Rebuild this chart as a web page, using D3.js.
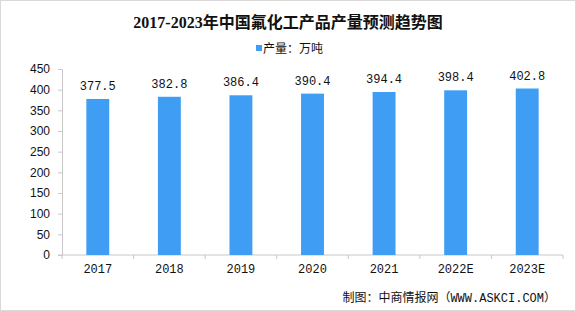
<!DOCTYPE html>
<html>
<head>
<meta charset="utf-8">
<script src="https://cdn.jsdelivr.net/npm/d3@7"></script>
<style>
  body { margin: 0; background: #fff; }
  svg { display: block; }
</style>
</head>
<body>
<svg id="chart" width="576" height="311"></svg>
<script>
// data
const years = ["2017", "2018", "2019", "2020", "2021", "2022E", "2023E"];
const output = [377.5, 382.8, 386.4, 390.4, 394.4, 398.4, 402.8];
const yTicks = [0, 50, 100, 150, 200, 250, 300, 350, 400, 450];

const svg = d3.select("#chart");
const width = 576, height = 311;
const margin = {top: 69, right: 13, bottom: 56, left: 62};
const monoFont = "'Liberation Mono', 'DejaVu Sans Mono', 'Noto Sans CJK SC', monospace";
const sansFont = "'Liberation Sans', Arial, sans-serif";
const cjkFont = "'Noto Sans CJK SC', sans-serif";

// outer border
svg.append("rect")
    .attr("x", 0.5).attr("y", 0.5)
    .attr("width", width - 1).attr("height", height - 1)
    .attr("fill", "#fff")
    .attr("stroke", "#d9d9d9");

// title
svg.append("text")
    .attr("x", width / 2).attr("y", 28)
    .attr("text-anchor", "middle")
    .style("font-family", "'Liberation Serif', 'Noto Sans CJK SC', serif")
    .style("font-weight", "bold")
    .style("font-size", "16px")
    .attr("fill", "#111")
    .text("2017-2023年中国氟化工产品产量预测趋势图");

// legend
svg.append("rect")
    .attr("x", 256).attr("y", 45)
    .attr("width", 6).attr("height", 6)
    .attr("fill", "#3f9ef3");
svg.append("text")
    .attr("x", 263).attr("y", 53)
    .style("font-family", cjkFont)
    .style("font-size", "12px")
    .attr("fill", "#111")
    .text("产量：万吨");

let xScale = d3.scaleBand()
    .domain(years)
    .range([margin.left, width - margin.right])
    .paddingInner(0.68)
    .paddingOuter(0.34);

let yScale = d3.scaleLinear()
    .domain([0, 450])
    .range([height - margin.bottom, margin.top]);

// y axis
let yAxis = d3.axisLeft(yScale)
    .tickValues(yTicks)
    .tickSize(4)
    .tickPadding(8);

let gy = svg.append("g")
    .attr("transform", "translate(" + margin.left + ",0)")
    .call(yAxis);
gy.select(".domain").attr("stroke", "#c8c8c8");
gy.selectAll(".tick line").attr("stroke", "#c8c8c8");
gy.selectAll(".tick text")
    .style("font-family", sansFont)
    .style("font-size", "12px")
    .attr("fill", "#111");

// x axis with ticks on the band edges
let step = xScale.step();
let x0 = margin.left;
let gx = svg.append("g")
    .attr("transform", "translate(0," + (height - margin.bottom) + ")");
gx.append("line")
    .attr("x1", x0 - 4).attr("x2", width - margin.right)
    .attr("stroke", "#c8c8c8");
gx.selectAll(".edge")
    .data(d3.range(years.length + 1))
    .enter()
    .append("line")
    .attr("class", "edge")
    .attr("x1", function (i) { return x0 + i * step; })
    .attr("x2", function (i) { return x0 + i * step; })
    .attr("y1", 0).attr("y2", 4)
    .attr("stroke", "#c8c8c8");
gx.selectAll(".label")
    .data(years)
    .enter()
    .append("text")
    .attr("class", "label")
    .attr("x", function (d) { return xScale(d) + xScale.bandwidth() / 2; })
    .attr("y", 18)
    .attr("text-anchor", "middle")
    .style("font-family", monoFont)
    .style("font-size", "12px")
    .attr("fill", "#111")
    .text(function (d) { return d; });

// bars
svg.append("g").selectAll("rect")
    .data(output)
    .enter()
    .append("rect")
    .attr("x", function (d, i) { return xScale(years[i]); })
    .attr("y", function (d) { return yScale(d); })
    .attr("width", xScale.bandwidth())
    .attr("height", function (d) { return yScale(0) - yScale(d); })
    .attr("fill", "#3f9ef3");

// value labels
svg.append("g").selectAll("text")
    .data(output)
    .enter()
    .append("text")
    .attr("x", function (d, i) { return xScale(years[i]) + xScale.bandwidth() / 2; })
    .attr("y", function (d) { return yScale(d) - 9; })
    .attr("text-anchor", "middle")
    .style("font-family", monoFont)
    .style("font-size", "12px")
    .attr("fill", "#111")
    .text(function (d) { return d.toFixed(1); });

// source note
svg.append("text")
    .attr("x", 556).attr("y", 302)
    .attr("text-anchor", "end")
    .style("font-family", monoFont)
    .style("font-size", "12px")
    .attr("fill", "#111")
    .text("制图：中商情报网（WWW.ASKCI.COM）");
</script>
</body>
</html>
